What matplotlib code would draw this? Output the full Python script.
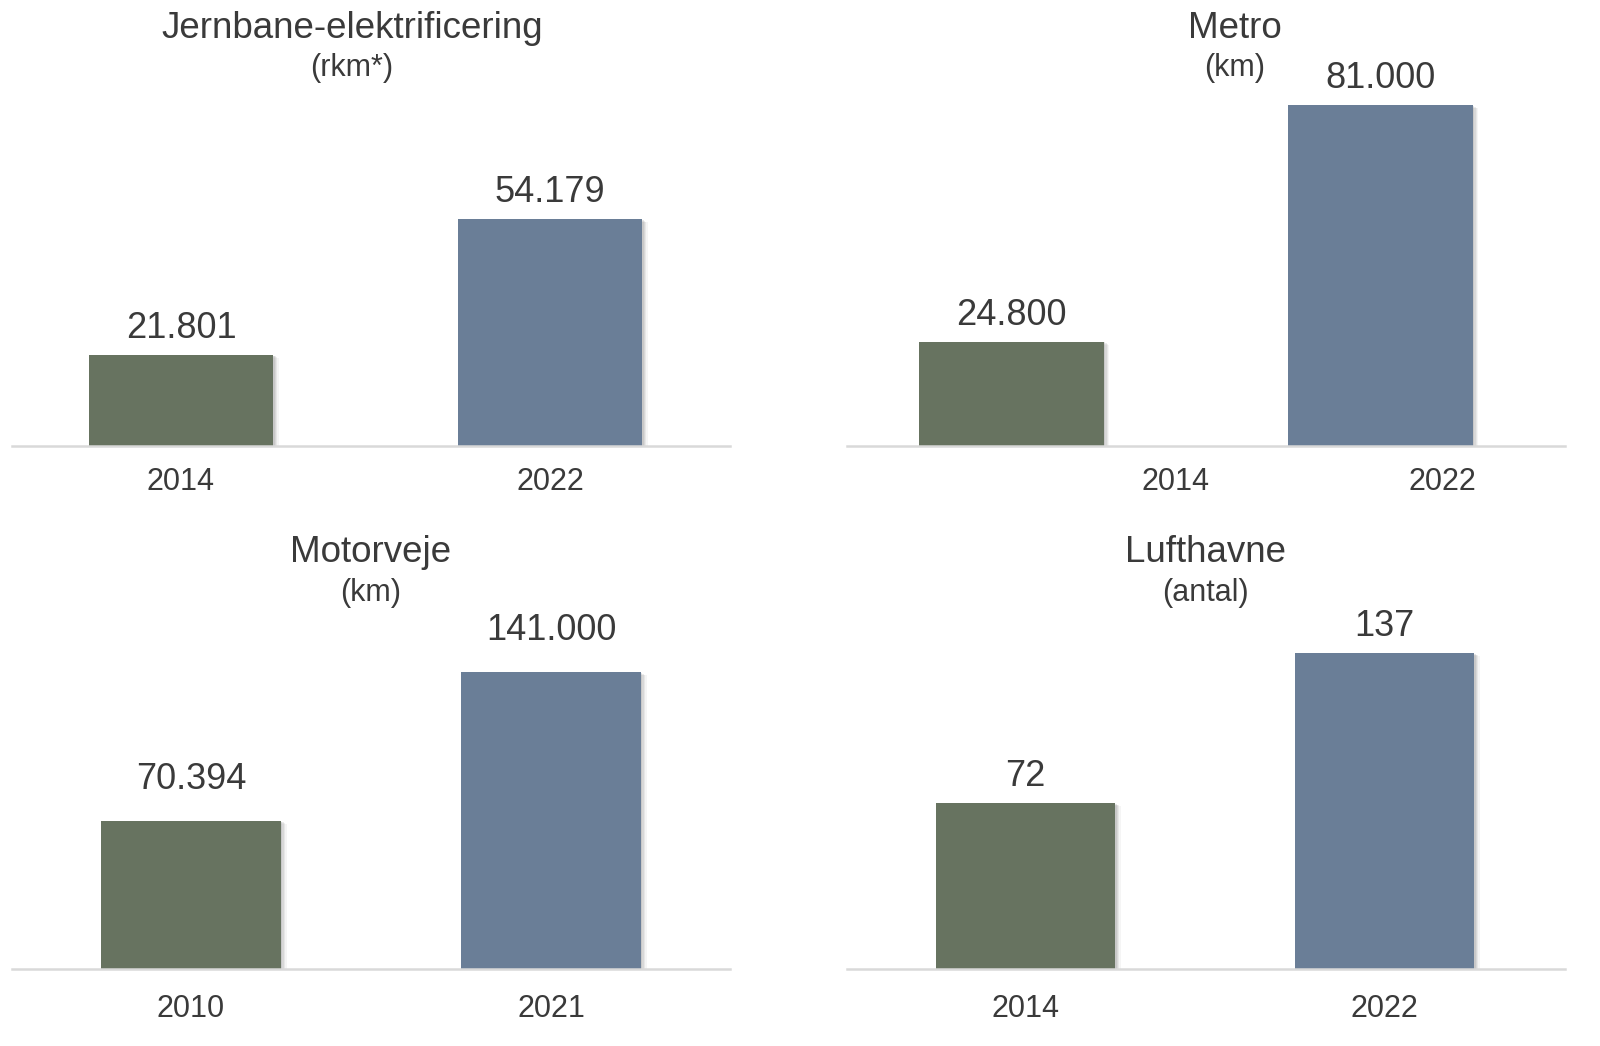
import matplotlib
matplotlib.use("Agg")
import matplotlib.pyplot as plt
import matplotlib.patheffects as pe

# data
titles = ["Jernbane-elektrificering", "Metro", "Motorveje", "Lufthavne"]
units = ["(rkm*)", "(km)", "(km)", "(antal)"]
years = [["2014", "2022"], ["2014", "2022"], ["2010", "2021"], ["2014", "2022"]]
values = [[21801, 54179], [24800, 81000], [70394, 141000], [72, 137]]

bar_colors = ["#677360", "#6a7e97"]
text_color = "#3a3a3a"

plt.rcParams["font.family"] = ["Liberation Sans", "DejaVu Sans"]

W, H = 1600, 1046
fig = plt.figure(figsize=(W / 100, H / 100), dpi=100)

# layout per panel (pixels): left, right, baseline, top
boxes = [(12, 730, 446, 100), (847, 1565, 446, 100),
         (12, 730, 969, 620), (847, 1565, 969, 620)]
ymax = [82600, 82200, 165700, 151.3]
xlims = [(-0.458, 1.488), (-0.446, 1.5), (-0.497, 1.497), (-0.497, 1.503)]
tick_pos = [[0, 1], [0.443, 1.167], [0, 1], [0, 1]]
tick_pad = [15, 15, 18, 18]
label_off = [12, 12, 23, 12]
title_xy = [(352, 28), (1235, 28), (371, 553), (1205, 553)]
unit_dy = 40

# soft shadow to the lower right
shadow = [pe.SimplePatchShadow(offset=(s, -s * 0.6), shadow_rgbFace="#8a8a8a", alpha=a)
          for s, a in [(4.0, 0.08), (3.0, 0.12), (2.0, 0.16), (1.0, 0.2)]]
shadow.append(pe.Normal())

for i in range(4):
    l, r, base, top = boxes[i]
    ax = fig.add_axes([l / W, 1 - base / H, (r - l) / W, (base - top) / H])
    x = [0, 1]
    bars = ax.bar(x, values[i], width=0.5, color=bar_colors, zorder=3)
    for b in bars:
        b.set_path_effects(shadow)
    for xi, v in zip(x, values[i]):
        ax.annotate(f"{v:,}".replace(",", "."), (xi, v), xytext=(0, label_off[i]),
                    textcoords="offset points", ha="center", va="baseline",
                    fontsize=26, color=text_color)
    ax.set_xlim(*xlims[i])
    ax.set_ylim(0, ymax[i])
    ax.set_xticks(tick_pos[i])
    ax.set_xticklabels(years[i], fontsize=22, color=text_color)
    ax.tick_params(axis="x", length=0, pad=tick_pad[i])
    ax.set_yticks([])
    for s in ["top", "left", "right"]:
        ax.spines[s].set_visible(False)
    ax.spines["bottom"].set_color("#d9d9d9")
    ax.spines["bottom"].set_linewidth(1.8)
    ax.spines["bottom"].set_zorder(4)
    ax.patch.set_alpha(0)

    tx, ty = title_xy[i]
    fig.text(tx / W, 1 - ty / H, titles[i], ha="center", va="center",
             fontsize=26.5, color=text_color)
    fig.text(tx / W, 1 - (ty + unit_dy) / H, units[i], ha="center", va="center",
             fontsize=22, color=text_color)

fig.savefig("out.png", dpi=100, facecolor="white")
